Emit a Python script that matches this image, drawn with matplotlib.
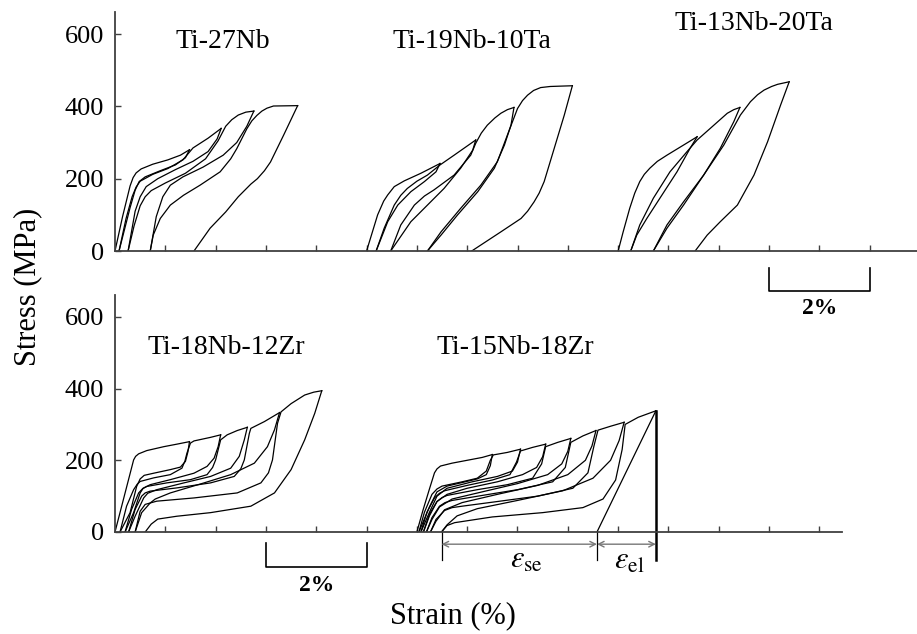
import numpy as np
import matplotlib
matplotlib.use('Agg')
import matplotlib.pyplot as plt

plt.rcParams['font.family'] = ['Liberation Serif', 'DejaVu Serif']
plt.rcParams['mathtext.fontset'] = 'stix'

# cyclic loading-unloading curves, (strain %, stress MPa), strain measured from each curve's own origin
# Ti-27Nb
nb27_load = [
    [(0, 0), (0.15, 95), (0.30, 180), (0.36, 203), (0.42, 216), (0.52, 227), (0.75, 240), (1.05, 252), (1.30, 265), (1.48, 280)],
    [(0.08, 0), (0.22, 90), (0.34, 150), (0.42, 177), (0.50, 193), (0.75, 212), (1.05, 228), (1.35, 252), (1.55, 285), (1.85, 312), (2.11, 339)],
    [(0.26, 0), (0.38, 70), (0.50, 125), (0.60, 150), (0.72, 167), (1.00, 188), (1.40, 215), (1.80, 255), (2.05, 305), (2.20, 345), (2.32, 363), (2.45, 376), (2.60, 384), (2.76, 387)],
    [(0.70, 0), (0.76, 44), (0.90, 90), (1.10, 127), (1.36, 154), (1.69, 182), (2.09, 219), (2.30, 255), (2.42, 283), (2.62, 338), (2.72, 360), (2.82, 375), (2.92, 387), (3.02, 395), (3.15, 401), (3.63, 402)],
]
nb27_unload = [
    [(1.48, 280), (1.40, 258), (1.20, 238), (0.90, 222), (0.60, 205), (0.48, 192), (0.40, 168), (0.30, 120), (0.08, 0)],
    [(2.11, 339), (2.03, 310), (1.85, 275), (1.55, 248), (1.20, 225), (0.85, 200), (0.62, 178), (0.50, 150), (0.40, 110), (0.26, 0)],
    [(2.76, 387), (2.62, 345), (2.42, 300), (2.15, 265), (1.75, 232), (1.35, 205), (1.10, 182), (0.95, 150), (0.82, 95), (0.70, 0)],
    [(3.63, 402), (3.35, 320), (3.09, 246), (2.97, 222), (2.83, 200), (2.70, 185), (2.45, 150), (2.20, 108), (1.89, 63), (1.57, 0)],
]

# Ti-19Nb-10Ta
ta10_load = [
    [(0, 0), (0.22, 100), (0.34, 138), (0.42, 155), (0.55, 178), (0.75, 194), (1.08, 215), (1.46, 242)],
    [(0.19, 0), (0.35, 63), (0.55, 127), (0.68, 154), (0.81, 173), (1.00, 193), (1.21, 210), (1.46, 238), (1.74, 265), (2.17, 307)],
    [(0.48, 0), (0.68, 72), (0.95, 127), (1.15, 152), (1.34, 169), (1.74, 210), (2.07, 265), (2.17, 298), (2.28, 326), (2.40, 348), (2.55, 368), (2.67, 381), (2.80, 391), (2.93, 397)],
    [(1.21, 0), (1.48, 53), (1.87, 118), (2.27, 182), (2.60, 247), (2.80, 321), (3.00, 394), (3.10, 416), (3.20, 431), (3.32, 444), (3.46, 452), (3.65, 455), (3.86, 456), (4.09, 457)],
]
ta10_unload = [
    [(1.46, 242), (1.38, 219), (1.15, 192), (0.88, 164), (0.62, 127), (0.42, 81), (0.19, 0)],
    [(2.17, 307), (2.11, 279), (1.87, 229), (1.54, 173), (1.21, 127), (0.88, 81), (0.48, 0)],
    [(2.93, 397), (2.87, 348), (2.74, 293), (2.54, 229), (2.21, 164), (1.81, 100), (1.48, 44), (1.21, 0)],
    [(4.09, 457), (3.93, 376), (3.73, 284), (3.53, 192), (3.43, 160), (3.33, 136), (3.20, 110), (3.07, 90), (2.67, 53), (2.09, 0)],
]

# Ti-13Nb-20Ta
ta20_load = [
    [(0, 0), (0.10, 53), (0.23, 118), (0.33, 160), (0.43, 192), (0.52, 212), (0.63, 229), (0.78, 248), (0.97, 265), (1.30, 293), (1.57, 316)],
    [(0.25, 0), (0.43, 72), (0.70, 146), (1.03, 219), (1.37, 275), (1.57, 307), (1.83, 339), (2.17, 381), (2.30, 391), (2.42, 397)],
    [(0.70, 0), (0.97, 72), (1.30, 136), (1.70, 210), (2.10, 293), (2.43, 376), (2.63, 413), (2.77, 432), (2.90, 445), (3.05, 455), (3.17, 461), (3.40, 468)],
]
ta20_unload = [
    [(1.57, 316), (1.43, 284), (1.17, 219), (0.83, 146), (0.57, 90), (0.37, 44), (0.25, 0)],
    [(2.42, 397), (2.30, 358), (2.03, 284), (1.70, 210), (1.30, 127), (0.97, 63), (0.70, 0)],
    [(3.40, 468), (3.23, 404), (2.97, 302), (2.70, 210), (2.37, 127), (2.03, 81), (1.77, 44), (1.53, 0)],
]

# Ti-18Nb-12Zr
zr12_load = [
    [(0, 0), (0.37, 201), (0.41, 211), (0.47, 218), (0.63, 227), (0.97, 238), (1.23, 245), (1.48, 252)],
    [(0.10, 0), (0.23, 72), (0.37, 118), (0.44, 133), (0.50, 141), (0.77, 151), (1.10, 160), (1.33, 178), (1.39, 198), (1.43, 220), (1.50, 248), (1.57, 254), (1.90, 264), (2.10, 271)],
    [(0.20, 0), (0.33, 63), (0.47, 109), (0.55, 121), (0.63, 127), (1.03, 137), (1.50, 146), (1.83, 160), (1.94, 180), (2.00, 201), (2.10, 257), (2.23, 271), (2.43, 283), (2.63, 292)],
    [(0.27, 0), (0.40, 63), (0.53, 100), (0.60, 109), (0.70, 114), (1.23, 123), (1.90, 137), (2.37, 155), (2.50, 176), (2.57, 201), (2.67, 275), (2.70, 289), (2.97, 308), (3.27, 333)],
    [(0.40, 0), (0.50, 58), (0.60, 77), (0.83, 86), (1.57, 95), (2.43, 109), (2.90, 137), (3.05, 165), (3.13, 201), (3.23, 303), (3.30, 335), (3.50, 358), (3.77, 382), (3.95, 390), (4.11, 394)],
]
zr12_unload = [
    [(1.48, 252), (1.45, 224), (1.40, 197), (1.30, 181), (1.10, 174), (0.77, 164), (0.58, 158), (0.50, 148), (0.43, 127), (0.30, 54), (0.10, 0)],
    [(2.10, 271), (2.05, 238), (1.97, 206), (1.83, 183), (1.57, 164), (1.10, 146), (0.70, 132), (0.56, 122), (0.50, 109), (0.37, 54), (0.20, 0)],
    [(2.63, 292), (2.57, 257), (2.47, 211), (2.30, 178), (1.90, 155), (1.37, 137), (0.83, 118), (0.65, 108), (0.57, 95), (0.40, 44), (0.27, 0)],
    [(3.27, 333), (3.17, 285), (3.03, 238), (2.77, 192), (2.30, 160), (1.77, 137), (1.10, 109), (0.80, 92), (0.70, 81), (0.53, 54), (0.40, 0)],
    [(4.11, 394), (3.97, 331), (3.77, 257), (3.50, 174), (3.17, 109), (2.70, 72), (1.90, 54), (1.23, 44), (0.85, 36), (0.72, 22), (0.60, 0)],
]

# Ti-15Nb-18Zr
zr18_load = [
    [(0, 0), (0.12, 60), (0.25, 120), (0.35, 165), (0.40, 176), (0.47, 184), (0.70, 192), (1.00, 200), (1.30, 208), (1.50, 216)],
    [(0.04, 0), (0.15, 55), (0.30, 105), (0.40, 120), (0.50, 128), (0.90, 140), (1.20, 150), (1.38, 170), (1.46, 200), (1.52, 215), (1.80, 222), (2.06, 231)],
    [(0.08, 0), (0.20, 55), (0.35, 95), (0.45, 108), (0.55, 115), (1.00, 130), (1.50, 145), (1.85, 160), (1.98, 195), (2.06, 226), (2.30, 236), (2.56, 245)],
    [(0.13, 0), (0.25, 50), (0.40, 85), (0.50, 96), (0.60, 102), (1.20, 118), (1.80, 132), (2.30, 150), (2.48, 190), (2.56, 238), (2.80, 250), (3.06, 261)],
    [(0.19, 0), (0.30, 40), (0.45, 72), (0.56, 82), (0.70, 88), (1.30, 102), (2.00, 118), (2.70, 140), (2.95, 180), (3.06, 250), (3.30, 268), (3.56, 283)],
    [(0.27, 0), (0.38, 35), (0.55, 60), (0.70, 68), (0.90, 72), (1.60, 85), (2.40, 100), (3.10, 122), (3.40, 165), (3.52, 240), (3.60, 284), (3.85, 295), (4.12, 306)],
    [(0.49, 0), (0.60, 18), (0.75, 26), (1.50, 42), (2.50, 54), (3.30, 68), (3.70, 92), (3.95, 145), (4.08, 230), (4.14, 300), (4.40, 320), (4.75, 338)],
]
zr18_unload = [
    [(1.50, 216), (1.46, 185), (1.38, 160), (1.20, 148), (0.90, 138), (0.60, 128), (0.40, 112), (0.25, 70), (0.04, 0)],
    [(2.06, 231), (2.00, 195), (1.90, 170), (1.60, 155), (1.10, 140), (0.60, 122), (0.40, 100), (0.25, 55), (0.08, 0)],
    [(2.56, 245), (2.50, 210), (2.38, 180), (2.10, 160), (1.60, 140), (1.00, 122), (0.60, 105), (0.40, 85), (0.25, 45), (0.13, 0)],
    [(3.06, 261), (3.00, 225), (2.88, 190), (2.60, 160), (2.00, 135), (1.30, 112), (0.70, 92), (0.45, 70), (0.30, 35), (0.19, 0)],
    [(3.56, 283), (3.48, 240), (3.35, 200), (3.00, 160), (2.40, 130), (1.60, 105), (0.90, 82), (0.55, 62), (0.38, 30), (0.27, 0)],
    [(4.12, 306), (4.02, 255), (3.85, 200), (3.50, 150), (2.90, 115), (2.00, 88), (1.20, 65), (0.80, 45), (0.60, 20), (0.49, 0)],
]
# elastic unloading line from the last peak
zr18_elastic = [(4.75, 338), (3.58, 0)]

W, H = 917, 634
fig = plt.figure(figsize=(W / 100, H / 100), dpi=100)
ax1 = fig.add_axes([115 / W, 1 - 251 / H, 802 / W, 239 / H])
ax2 = fig.add_axes([115 / W, 1 - 532 / H, 727 / W, 237 / H])

for ax, xmax in ((ax1, 15.94), (ax2, 14.45)):
    ax.patch.set_visible(False)
    ax.set_xlim(0, xmax)
    ax.set_ylim(0, 661)
    for s in ('top', 'right'):
        ax.spines[s].set_visible(False)
    for s in ('left', 'bottom'):
        ax.spines[s].set_color('#404040')
        ax.spines[s].set_linewidth(1.3)
    ax.set_xticks(np.arange(1, int(xmax) + 1))
    ax.set_yticks([0, 200, 400, 600])
    ax.tick_params(axis='x', direction='in', length=4, width=1, color='#404040', labelbottom=False)
    ax.tick_params(axis='y', direction='in', length=4, width=1, color='#404040', labelsize=19, pad=8)


def draw(ax, loads, unloads, x0):
    for seg in loads + unloads:
        seg = np.array(seg)
        ax.plot(seg[:, 0] + x0, seg[:, 1], color='k', lw=0.9)


draw(ax1, nb27_load, nb27_unload, 0)
draw(ax1, ta10_load, ta10_unload, 5)
draw(ax1, ta20_load, ta20_unload, 10)
draw(ax2, zr12_load, zr12_unload, 0)
draw(ax2, zr18_load, zr18_unload, 6)
el = np.array(zr18_elastic)
ax2.plot(el[:, 0] + 6, el[:, 1], color='k', lw=0.9)

# alloy names
fs = 20
fig.text(223 / W, 1 - 42 / H, 'Ti-27Nb', fontsize=fs, ha='center', va='center')
fig.text(472 / W, 1 - 42 / H, 'Ti-19Nb-10Ta', fontsize=fs, ha='center', va='center')
fig.text(754 / W, 1 - 24 / H, 'Ti-13Nb-20Ta', fontsize=fs, ha='center', va='center')
fig.text(226 / W, 1 - 347 / H, 'Ti-18Nb-12Zr', fontsize=fs, ha='center', va='center')
fig.text(515 / W, 1 - 347 / H, 'Ti-15Nb-18Zr', fontsize=fs, ha='center', va='center')

# 2% scale bars
ax1.plot([13, 13, 15, 15], [-47, -110, -110, -47], color='k', lw=1.2, clip_on=False)
ax1.text(14, -160, '2%', fontsize=17, fontweight='bold', ha='center', va='center')
ax2.plot([3, 3, 5, 5], [-31, -98, -98, -31], color='k', lw=1.2, clip_on=False)
ax2.text(4, -148, '2%', fontsize=17, fontweight='bold', ha='center', va='center')

# superelastic / elastic strain markers
x_se = 6 + zr18_load[-1][0][0]
x_el = 6 + zr18_elastic[1][0]
x_pk = 6 + zr18_elastic[0][0]
for xv in (x_se, x_el):
    ax2.plot([xv, xv], [0, -78], color='k', lw=0.9, clip_on=False)
ax2.plot([x_pk, x_pk], [zr18_elastic[0][1], -78], color='k', lw=1.8, clip_on=False)
for a, b in ((x_se, x_el), (x_el, x_pk)):
    ax2.annotate('', xy=(a, -34), xytext=(b, -34), annotation_clip=False,
                 arrowprops=dict(arrowstyle='<->', color='#777777', lw=1, shrinkA=0, shrinkB=0))
ax2.text((x_se + x_el) / 2 + 0.15, -80, r'$\varepsilon_{\rm se}$', fontsize=22, ha='center', va='center')
ax2.text((x_el + x_pk) / 2 + 0.05, -82, r'$\varepsilon_{\rm el}$', fontsize=22, ha='center', va='center')

fig.text(28 / W, 1 - 287 / H, 'Stress (MPa)', rotation=90, fontsize=22, ha='center', va='center')
fig.text(453 / W, 1 - 616 / H, 'Strain (%)', fontsize=22, ha='center', va='center')

fig.savefig('out.png', dpi=100)
